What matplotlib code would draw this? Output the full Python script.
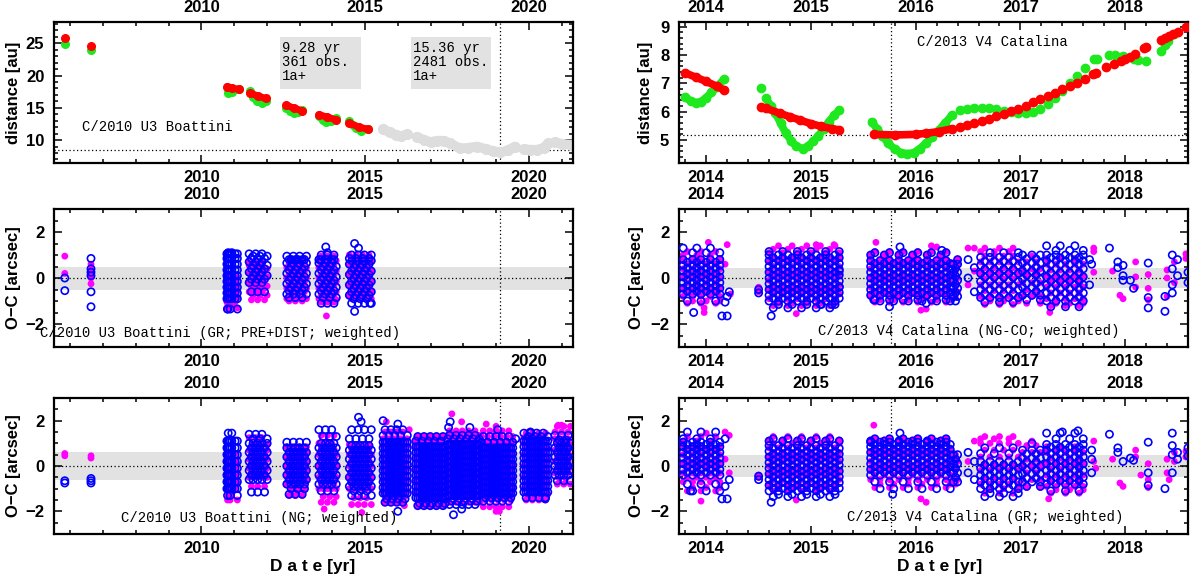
import numpy as np
import matplotlib
matplotlib.use("Agg")
import matplotlib.pyplot as plt
from matplotlib.ticker import MultipleLocator, ScalarFormatter
from matplotlib.patches import Rectangle

plt.rcParams['font.family'] = ['Liberation Sans', 'DejaVu Sans']
plt.rcParams['font.weight'] = 'bold'
plt.rcParams['axes.unicode_minus'] = True

# ---------------- C/2010 U3 Boattini : distances ----------------
boat_red_t = [[2005.84], [2006.63], [2010.79, 2010.95, 2011.14], [2011.49, 2011.72, 2011.96],
              [2012.60, 2012.83, 2013.07], [2013.59, 2013.85, 2014.11], [2014.52, 2014.80, 2015.10]]
boat_red_d = [[25.75], [24.55], [18.3, 18.05, 17.85], [17.3, 16.85, 16.45],
              [15.4, 14.95, 14.55], [13.95, 13.55, 13.15], [12.6, 12.05, 11.65]]
boat_green_t = [[2005.84], [2006.63], [2010.80, 2010.95, 2011.14],
                [2011.49, 2011.58, 2011.70, 2011.84, 2011.96],
                [2012.60, 2012.70, 2012.83, 2012.95, 2013.07],
                [2013.59, 2013.70, 2013.82, 2013.95, 2014.11],
                [2014.52, 2014.62, 2014.72, 2014.87, 2015.10]]
boat_green_d = [[24.85], [24.0], [17.3, 17.4, 17.95], [17.6, 16.7, 16.1, 15.75, 16.0],
                [15.0, 14.5, 14.2, 14.3, 14.7], [13.7, 13.1, 12.8, 12.9, 13.35],
                [13.0, 12.3, 11.8, 11.4, 11.75]]
boat_gray_t = [[2015.55, 2015.75, 2015.95, 2016.10, 2016.28],
               [2016.58, 2016.80, 2017.00, 2017.20, 2017.40, 2017.60, 2017.90, 2018.15,
                2018.42, 2018.70, 2018.92, 2019.13, 2019.35, 2019.58],
               [2019.84, 2020.05, 2020.25, 2020.45, 2020.60],
               [2020.80, 2021.00, 2021.30]]
boat_gray_d = [[11.7, 11.2, 10.8, 10.6, 10.9],
               [10.5, 10.0, 9.7, 9.9, 9.9, 9.5, 8.7, 8.8, 9.0, 8.6, 8.3, 8.1, 8.4, 9.0],
               [8.6, 8.5, 8.5, 8.8, 9.5],
               [9.7, 9.4, 9.3]]

# ---------------- C/2013 V4 Catalina : distances ----------------
cat_red_arc_t = [[2013.80, 2013.90, 2014.00, 2014.10, 2014.17], [2014.52],
                 [2014.57, 2014.70, 2014.80, 2014.90, 2015.00, 2015.10, 2015.20, 2015.27],
                 [2015.60, 2015.80, 2016.00, 2016.10, 2016.22, 2016.35]]
cat_red_arc_d = [[7.37, 7.22, 7.07, 6.90, 6.77], [6.18],
                 [6.12, 5.95, 5.82, 5.70, 5.58, 5.48, 5.40, 5.36],
                 [5.20, 5.18, 5.20, 5.24, 5.30, 5.40]]
cat_red_dot_t = [2016.42, 2016.49, 2016.56, 2016.63, 2016.70, 2016.77, 2016.84, 2016.91, 2016.98,
                 2017.05, 2017.12, 2017.19, 2017.26, 2017.33, 2017.40, 2017.47, 2017.54, 2017.62,
                 2017.69, 2017.72, 2017.82, 2017.89, 2017.96, 2018.00, 2018.05, 2018.09, 2018.18,
                 2018.20, 2018.34, 2018.38, 2018.42, 2018.46, 2018.50, 2018.58]
cat_red_dot_d = [5.47, 5.54, 5.60, 5.67, 5.75, 5.84, 5.93, 6.02, 6.11, 6.22, 6.33, 6.44, 6.55,
                 6.67, 6.79, 6.91, 7.03, 7.17, 7.33, 7.38, 7.58, 7.68, 7.80, 7.87, 7.95, 8.05,
                 8.26, 8.30, 8.55, 8.62, 8.68, 8.74, 8.80, 9.00]
cat_green_arc_t = [[2013.80, 2013.85, 2013.90, 2013.95, 2014.00, 2014.05, 2014.10, 2014.17], [2014.52],
                   [2014.57, 2014.62, 2014.66, 2014.71, 2014.76, 2014.81, 2014.86, 2014.92,
                    2014.97, 2015.02, 2015.07, 2015.12, 2015.17, 2015.22, 2015.27],
                   [2015.58, 2015.63, 2015.68, 2015.74, 2015.80, 2015.86, 2015.92, 2015.98,
                    2016.04, 2016.10, 2016.16, 2016.22, 2016.28, 2016.35]]
cat_green_arc_d = [[6.52, 6.38, 6.32, 6.36, 6.50, 6.68, 6.88, 7.15], [6.85],
                   [6.47, 6.20, 5.95, 5.60, 5.24, 4.98, 4.78, 4.70, 4.78, 4.95, 5.15, 5.40,
                    5.65, 5.87, 6.05],
                   [5.65, 5.40, 5.15, 4.88, 4.68, 4.55, 4.52, 4.55, 4.70, 4.90, 5.12, 5.35,
                    5.60, 5.89]]
cat_green_dot_t = [2016.42, 2016.49, 2016.56, 2016.63, 2016.70, 2016.77, 2016.84, 2016.91, 2016.98,
                   2017.05, 2017.12, 2017.19, 2017.26, 2017.33, 2017.40, 2017.47, 2017.54, 2017.62,
                   2017.70, 2017.73, 2017.85, 2017.90, 2017.98, 2018.08, 2018.12, 2018.20, 2018.34,
                   2018.38, 2018.41, 2018.47]
cat_green_dot_d = [6.06, 6.11, 6.14, 6.15, 6.12, 6.08, 6.04, 6.00, 5.97, 5.96, 5.98, 6.10, 6.28,
                   6.50, 6.75, 7.00, 7.25, 7.55, 7.85, 7.88, 8.02, 8.02, 7.97, 7.88, 7.84, 7.80,
                   8.15, 8.35, 8.50, 8.75]

# ---------------- O-C residuals: observation seasons ----------------
boat_seasons = [
    [2005.83],
    [2006.63],
    [2010.78, 2010.80, 2010.82, 2010.85, 2010.88, 2010.93, 2011.03, 2011.10],
    [2011.46, 2011.53, 2011.58, 2011.66, 2011.72, 2011.79, 2011.85, 2011.93, 2012.01],
    [2012.61, 2012.68, 2012.74, 2012.81, 2012.87, 2012.94, 2013.00, 2013.08, 2013.15, 2013.21],
    [2013.59, 2013.66, 2013.72, 2013.79, 2013.85, 2013.92, 2013.98, 2014.05, 2014.12],
    [2014.52, 2014.59, 2014.66, 2014.72, 2014.79, 2014.85, 2014.92, 2014.98, 2015.05, 2015.12,
     2015.19],
    [2015.55, 2015.61, 2015.66, 2015.73, 2015.79, 2015.84, 2015.91, 2015.97, 2016.02, 2016.09,
     2016.15, 2016.22, 2016.29],
    [2016.55, 2016.61, 2016.67, 2016.74, 2016.80, 2016.86, 2016.93, 2016.99, 2017.05, 2017.12,
     2017.18, 2017.25, 2017.31, 2017.38, 2017.44],
    [2017.52, 2017.58, 2017.65, 2017.71, 2017.78, 2017.84, 2017.90, 2017.97, 2018.03, 2018.10,
     2018.16, 2018.23, 2018.29, 2018.36, 2018.42, 2018.48],
    [2018.55, 2018.61, 2018.68, 2018.74, 2018.81, 2018.87, 2018.94, 2019.00, 2019.06, 2019.13,
     2019.19, 2019.26, 2019.32, 2019.39, 2019.45, 2019.51],
    [2019.85, 2019.92, 2019.98, 2020.05, 2020.11, 2020.18, 2020.24, 2020.31, 2020.37, 2020.44,
     2020.51, 2020.58],
    [2020.80, 2020.87, 2020.93, 2021.00, 2021.07, 2021.13, 2021.20, 2021.27],
]

# GR; PRE+DIST fit (data up to 2015 only): core and halo values per season
bgr_mag_core = [
    [0.95, 0.2], [0.6, 0.35, 0.15, 0.0, -0.25],
    [-1.05, -0.85, -0.7, -0.55, -0.4, -0.3, -0.15, 0.0],
    [-0.6, -0.45, -0.35, -0.2, -0.05, 0.05, 0.2, 0.3, 0.4, 0.55],
    [-0.9, -0.75, -0.6, -0.45, -0.3, -0.15, 0.0, 0.15, 0.3, 0.45, 0.6, 0.75],
    [-0.9, -0.75, -0.6, -0.45, -0.3, -0.15, 0.0, 0.15, 0.3, 0.45, 0.6, 0.75],
    [-0.75, -0.6, -0.45, -0.3, -0.15, 0.0, 0.15, 0.3, 0.45, 0.6, 0.75, 0.9],
    [], [], [], [], [], [],
]
bgr_mag_halo = [[], [], [-1.3, -1.2], [-0.95, -0.75, 0.7], [-1.0, 0.85], [-1.05, -0.95, 0.8, 0.95],
                [-0.9, 0.9, 1.0], [], [], [], [], [], []]
bgr_mag_extra = [(2013.82, -1.65)]
bgr_mag_stride = [1, 1, 2, 3, 3, 3, 3, 1, 1, 1, 1, 1, 1]
bgr_blu_core = [
    [0.0, -0.55], [0.85, 0.4, 0.25, 0.1, -0.6, -1.25],
    [-0.9, -0.65, -0.4, -0.15, 0.1, 0.35, 0.6, 0.85, 1.05],
    [-0.2, -0.05, 0.1, 0.25, 0.4, 0.55, 0.7, 0.85],
    [-0.7, -0.55, -0.4, -0.25, -0.1, 0.05, 0.2, 0.35, 0.5, 0.65, 0.8],
    [-0.7, -0.55, -0.4, -0.25, -0.1, 0.05, 0.2, 0.35, 0.5, 0.65, 0.8],
    [-0.75, -0.6, -0.45, -0.3, -0.15, 0.0, 0.15, 0.3, 0.45, 0.6, 0.75],
    [], [], [], [], [], [],
]
bgr_blu_halo = [[], [], [-1.35, 1.1], [-0.6, 0.95, 1.05], [-0.85, 0.8, 0.95], [-1.1, -0.85, 0.8, 1.0],
                [-1.1, -0.9, 0.85, 1.0], [], [], [], [], [], []]
bgr_blu_extra = [(2013.80, 1.35), (2013.85, 1.1), (2014.68, 1.5), (2014.80, 1.3), (2014.68, -1.45),
                 (2010.80, -1.35), (2015.15, -1.1)]
bgr_blu_stride = [1, 1, 1, 3, 3, 3, 3, 1, 1, 1, 1, 1, 1]

# NG fit (all data)
bng_mag_core = [
    [0.55, 0.45], [0.45, 0.35],
    [-1.0, -0.75, -0.5, -0.3, -0.1, 0.1, 0.3],
    [-0.5, -0.3, -0.1, 0.1, 0.3, 0.5, 0.7],
    [-0.8, -0.6, -0.4, -0.2, 0.0, 0.2, 0.4, 0.6],
    [-1.0, -0.75, -0.5, -0.25, 0.0, 0.25, 0.5, 0.75],
    [-1.0, -0.75, -0.5, -0.25, 0.0, 0.25, 0.5, 0.75],
    [-1.1, -0.85, -0.6, -0.35, -0.1, 0.15, 0.4, 0.65, 0.9],
    [-1.2, -0.95, -0.7, -0.45, -0.2, 0.05, 0.3, 0.55, 0.8],
    [-1.1, -0.85, -0.6, -0.35, -0.1, 0.15, 0.4, 0.65, 0.9, 1.1],
    [-1.2, -0.95, -0.7, -0.45, -0.2, 0.05, 0.3, 0.55, 0.8, 1.05],
    [-1.0, -0.75, -0.5, -0.25, 0.0, 0.25, 0.5, 0.75, 1.0],
    [-0.3, -0.05, 0.2, 0.45, 0.7, 0.95, 1.2],
]
bng_mag_halo = [[], [], [-1.5, -1.3, 0.55], [-0.9, 0.95, 1.25], [-1.3, -1.05, 0.85],
                [-1.6, -1.35, 1.0, 1.35], [-1.7, -1.4, 0.95], [-1.6, -1.35, 1.2, 1.5],
                [-1.75, -1.45, 1.1, 1.3], [-1.6, -1.35, 1.35, 1.55], [-1.8, -1.5, 1.3, 1.55],
                [-1.5, -1.25, 1.25, 1.45], [-0.8, -0.55, 1.5, 1.75]]
bng_mag_extra = [(2013.75, -1.9), (2014.90, -2.05), (2015.65, 1.95), (2016.20, -1.75), (2017.65, 2.3),
                 (2017.95, 1.95), (2018.70, 1.85), (2019.00, 1.75), (2019.00, -2.0), (2019.10, -2.0),
                 (2018.50, -1.6), (2020.90, 1.8), (2021.00, 1.8), (2016.35, 1.6), (2016.60, -1.75),
                 (2017.45, -1.7)]
bng_mag_stride = [1, 1, 2, 2, 2, 2, 2, 2, 2, 2, 2, 2, 2]
bng_blu_core = [
    [-0.65, -0.75], [-0.55, -0.65, -0.75],
    [-1.0, -0.7, -0.4, -0.1, 0.2, 0.5, 0.8, 1.1],
    [-0.6, -0.4, -0.2, 0.0, 0.2, 0.4, 0.6, 0.8, 1.0],
    [-0.8, -0.6, -0.4, -0.2, 0.0, 0.2, 0.4, 0.6, 0.8],
    [-0.8, -0.6, -0.4, -0.2, 0.0, 0.2, 0.4, 0.6, 0.8, 1.0],
    [-0.9, -0.7, -0.5, -0.3, -0.1, 0.1, 0.3, 0.5, 0.7, 0.9],
    [-1.2, -0.95, -0.7, -0.45, -0.2, 0.05, 0.3, 0.55, 0.8, 1.05],
    [-1.4, -1.15, -0.9, -0.65, -0.4, -0.15, 0.1, 0.35, 0.6, 0.85],
    [-1.3, -1.05, -0.8, -0.55, -0.3, -0.05, 0.2, 0.45, 0.7, 0.95],
    [-1.2, -0.95, -0.7, -0.45, -0.2, 0.05, 0.3, 0.55, 0.8],
    [-1.15, -0.9, -0.65, -0.4, -0.15, 0.1, 0.35, 0.6, 0.85, 1.1],
    [-0.4, -0.2, 0.0, 0.2, 0.4, 0.6, 0.8, 1.0],
]
bng_blu_halo = [[], [], [-1.3, 1.45], [-1.15, 1.2, 1.4], [-1.25, -1.0, 1.05], [-1.1, 1.3, 1.6],
                [-1.3, -1.1, 1.2, 1.6], [-1.6, -1.45, 1.35, 1.6], [-1.75, -1.65, 1.1, 1.3],
                [-1.7, -1.55, 1.2, 1.35], [-1.55, -1.4, 1.05, 1.3], [-1.4, 1.3, 1.45],
                [-0.65, 1.15, 1.35]]
bng_blu_extra = [(2014.80, 2.15), (2014.88, 1.95), (2015.55, 2.0), (2016.00, 1.85), (2016.00, -2.0),
                 (2017.55, 1.7), (2017.60, 1.95), (2017.70, -2.15), (2017.95, -1.9), (2018.20, 1.7),
                 (2019.05, 1.6), (2019.60, 1.2), (2020.05, 1.5), (2020.50, -1.45)]
bng_blu_stride = [1, 1, 1, 2, 2, 2, 2, 1, 1, 1, 1, 1, 2]

cat_seasons = [
    [2013.78, 2013.82, 2013.87, 2013.91, 2013.95, 2014.00, 2014.04, 2014.09, 2014.13],
    [2014.50],
    [2014.60, 2014.64, 2014.69, 2014.73, 2014.78, 2014.82, 2014.87, 2014.91, 2014.96, 2015.00,
     2015.05, 2015.09, 2015.14, 2015.18, 2015.23, 2015.27],
    [2015.57, 2015.61, 2015.66, 2015.70, 2015.75, 2015.79, 2015.84, 2015.88, 2015.93, 2015.97,
     2016.02, 2016.06, 2016.11, 2016.15, 2016.20, 2016.24, 2016.29, 2016.33],
    [2016.36, 2016.38, 2016.40],
    [2016.50, 2016.56],
    [2016.62, 2016.66, 2016.71, 2016.75, 2016.80, 2016.84, 2016.89, 2016.93, 2016.98],
    [2017.02, 2017.06, 2017.11, 2017.15, 2017.19],
    [2017.25, 2017.29, 2017.34, 2017.38, 2017.43, 2017.47, 2017.52, 2017.56, 2017.60],
]
cat_stride = [2, 1, 2, 2, 2, 2, 2, 2, 2]

# NG-CO fit
cngco_mag_core = [
    [-0.8, -0.6, -0.4, -0.2, 0.0, 0.2, 0.4, 0.6, 0.8],
    [-0.4, -0.6],
    [-0.9, -0.7, -0.5, -0.3, -0.1, 0.1, 0.3, 0.5, 0.7, 0.9],
    [-0.8, -0.6, -0.4, -0.2, 0.0, 0.2, 0.4, 0.6, 0.8],
    [-0.6, -0.3, 0.0, 0.3, 0.6],
    [-0.3, 0.3],
    [-0.8, -0.55, -0.3, -0.05, 0.2, 0.45, 0.7, 0.95],
    [-0.8, -0.5, -0.2, 0.1, 0.4, 0.7],
    [-0.9, -0.65, -0.4, -0.15, 0.1, 0.35, 0.6],
]
cngco_mag_halo = [[-1.1, -1.0, 1.0, 1.15], [], [-1.2, -1.1, 1.1, 1.25, 1.4], [-1.05, -0.95, 1.0, 1.15],
                  [-0.85, 0.8], [1.3], [-1.15, -1.0, 1.15, 1.3], [-1.1, 0.95], [-1.2, -1.1, 0.85]]
cngco_mag_extra = [(2014.02, 1.55), (2014.20, 1.45), (2013.98, -1.5), (2013.98, -1.3), (2014.18, 0.6),
                   (2014.23, -0.7), (2014.86, -1.55), (2015.05, 1.45), (2015.22, 1.45), (2015.62, 1.55),
                   (2016.05, -1.4), (2016.10, -1.35), (2016.15, 1.4), (2016.20, 1.35),
                   (2017.28, -1.5), (2017.70, 1.3), (2017.70, 1.15), (2017.70, 0.25), (2017.88, 0.3),
                   (2017.95, -0.75), (2017.98, -0.9), (2018.10, 0.7), (2018.10, 0.05), (2018.10, -0.4),
                   (2018.22, 0.15), (2018.22, -0.45), (2018.22, -0.95), (2018.40, 0.35), (2018.40, 0.0),
                   (2018.40, -0.8), (2018.47, 0.7), (2018.47, -0.2), (2018.58, 1.05), (2018.58, 0.85)]
cngco_blu_core = [
    [-0.7, -0.58, -0.45, -0.33, -0.2, -0.08, 0.05, 0.18, 0.3, 0.43, 0.55, 0.68, 0.8],
    [-0.5, -0.65],
    [-1.0, -0.88, -0.75, -0.63, -0.5, -0.38, -0.25, -0.13, 0.0, 0.13, 0.25, 0.38, 0.5, 0.63,
     0.75, 0.88, 1.0],
    [-0.75, -0.63, -0.5, -0.38, -0.25, -0.13, 0.0, 0.13, 0.25, 0.38, 0.5, 0.63, 0.75],
    [-0.8, -0.63, -0.45, -0.28, -0.1, 0.08, 0.25, 0.43, 0.6],
    [0.8, 0.45, 0.0, -0.6],
    [-0.85, -0.68, -0.5, -0.33, -0.15, 0.03, 0.2, 0.38, 0.55, 0.73, 0.9],
    [-0.75, -0.58, -0.4, -0.23, -0.05, 0.13, 0.3, 0.48, 0.65, 0.83, 1.0],
    [-1.0, -0.83, -0.65, -0.48, -0.3, -0.13, 0.05, 0.23, 0.4, 0.58, 0.75, 0.88, 1.0],
]
cngco_blu_halo = [[-1.0, 1.1, 1.3], [], [-1.3, -1.15, 1.15], [-0.95, -1.0, 1.0, 1.1], [-1.0, 0.8], [],
                  [-1.05, 1.1], [-0.95], [-1.25, 1.2, 1.4]]
cngco_blu_extra = [(2013.88, -1.5), (2014.15, -1.65), (2014.20, -1.65), (2014.18, -1.05),
                   (2014.20, -0.8), (2014.22, -0.6), (2014.62, -1.65), (2015.10, -1.15), (2015.20, -1.15),
                   (2015.27, -0.4), (2015.27, 0.3), (2015.60, -0.95), (2015.75, -1.25), (2015.85, 1.35),
                   (2016.25, 1.2), (2016.10, -1.1), (2017.66, 0.8), (2017.68, 0.6), (2017.66, -0.3),
                   (2017.85, 1.3), (2017.93, 0.7), (2017.93, 0.45), (2017.98, 0.55), (2017.98, 0.1),
                   (2017.98, -0.1), (2018.05, -0.1), (2018.08, -0.45), (2018.22, 0.65), (2018.22, -0.85),
                   (2018.22, -1.3), (2018.38, -1.45), (2018.38, -0.8), (2018.45, 1.0), (2018.45, 0.4),
                   (2018.45, -0.3), (2018.45, -0.65), (2018.50, 0.8), (2018.50, 0.1), (2018.60, 0.25),
                   (2018.60, -0.2)]

# GR fit
cgr_mag_core = [
    [-0.7, -0.5, -0.3, -0.1, 0.1, 0.3, 0.5, 0.7, 0.9],
    [-0.4, -0.5],
    [-0.8, -0.6, -0.4, -0.2, 0.0, 0.2, 0.4, 0.6, 0.8, 1.0],
    [-0.6, -0.4, -0.2, 0.0, 0.2, 0.4, 0.6, 0.8, 1.0],
    [-0.6, -0.2, 0.2, 0.5],
    [0.2, 1.1],
    [-0.8, -0.5, -0.2, 0.1, 0.4, 0.7, 1.0],
    [-0.6, -0.3, 0.0, 0.3, 0.6, 0.9],
    [-0.9, -0.65, -0.4, -0.15, 0.1, 0.35, 0.6],
]
cgr_mag_halo = [[-1.1, -0.95, 1.1, 1.3], [], [-1.1, -1.0, 1.15, 1.3], [-0.95, -0.8, 1.15, 1.2], [-0.8], [],
                [-1.2, -1.0, 1.2, 1.3], [-0.95, 1.1], [-1.2, -1.05, 0.85]]
cgr_mag_extra = [(2013.95, -1.55), (2014.00, 1.45), (2014.18, 1.5), (2014.22, 1.35), (2014.18, 0.3),
                 (2014.22, -0.3), (2014.86, -1.5), (2015.60, 1.8), (2016.05, -1.45), (2016.10, -1.6),
                 (2017.27, -1.45), (2017.70, 1.1), (2017.70, 0.2), (2017.72, -0.1), (2017.88, 0.3),
                 (2017.95, -0.75), (2017.98, -0.9), (2018.10, 0.7), (2018.10, 0.4), (2018.15, -0.4),
                 (2018.22, 0.1), (2018.22, -0.6), (2018.22, -0.95), (2018.40, 0.3), (2018.40, -0.3),
                 (2018.42, -0.6), (2018.47, 0.6), (2018.47, 0.2), (2018.58, 0.65), (2018.58, 0.4)]
cgr_blu_core = [
    [-0.4, -0.28, -0.15, -0.03, 0.1, 0.23, 0.35, 0.48, 0.6, 0.73, 0.85, 0.95, 1.05],
    [-0.45, -0.6],
    [-1.1, -0.98, -0.85, -0.73, -0.6, -0.48, -0.35, -0.23, -0.1, 0.03, 0.15, 0.28, 0.4, 0.53,
     0.65, 0.78, 0.9],
    [-0.4, -0.28, -0.15, -0.03, 0.1, 0.23, 0.35, 0.48, 0.6, 0.73, 0.85, 0.95, 1.05],
    [-0.7, -0.5, -0.3, -0.1, 0.1, 0.3, 0.5],
    [0.6, 0.2, -0.3, -0.6],
    [-1.0, -0.85, -0.7, -0.55, -0.4, -0.25, -0.1, 0.05, 0.2],
    [-0.7, -0.53, -0.35, -0.18, 0.0, 0.18, 0.35, 0.53, 0.7],
    [-0.8, -0.65, -0.5, -0.35, -0.2, -0.05, 0.1, 0.25, 0.4, 0.55, 0.7, 0.83, 0.95],
]
cgr_blu_halo = [[-0.8, -1.1, 1.2, 1.5], [], [-1.35, -1.25, 1.1, 1.2], [-0.7, -1.0, 1.1, 1.2], [], [],
                [-1.35, -1.2, 0.55, 0.8], [-0.9, 1.0], [-1.1, 1.2, 1.45]]
cgr_blu_extra = [(2013.85, -1.1), (2014.15, -1.45), (2014.20, -1.45), (2014.18, -0.9),
                 (2014.22, -0.6), (2014.18, 1.2), (2014.62, -1.6), (2015.78, -1.25), (2015.85, 1.45),
                 (2017.55, 1.55), (2017.40, 1.5), (2017.68, 0.7), (2017.68, 0.3), (2017.68, -0.3),
                 (2017.85, 1.4), (2017.93, 0.8), (2017.93, 0.6), (2017.98, 0.2), (2018.05, 0.35),
                 (2018.08, 0.25), (2018.22, 1.05), (2018.22, -0.85), (2018.22, -0.3), (2018.38, -1.0),
                 (2018.45, 1.45), (2018.45, 0.9), (2018.45, 0.5), (2018.45, -0.3), (2018.50, 0.6),
                 (2018.50, 0.3), (2018.60, 0.8), (2018.60, 0.45)]

RED, GREEN, MAG, BLUE = '#ff0000', '#1ee81e', '#ff00ff', '#0000ff'
BAND = '#e2e2e2'
MONO = ['Liberation Mono', 'DejaVu Sans Mono']


def season_points(seasons, core, halo, extra, strides):
    # core value k of a season sits on every stride-th date (shifted with k); halo on every third
    ts, vs = [], []
    for t, c, h, s in zip(seasons, core, halo, strides):
        t = np.asarray(t)
        for k, v in enumerate(c):
            sub = t[k % s::s] if len(t) >= s else t
            ts.append(sub)
            vs.append(np.full(len(sub), v))
        for k, v in enumerate(h):
            sub = t[(k + 1) % 3::3] if len(t) > 2 else t
            ts.append(sub)
            vs.append(np.full(len(sub), v))
    ts.append(np.array([p[0] for p in extra]))
    vs.append(np.array([p[1] for p in extra]))
    return np.concatenate(ts), np.concatenate(vs)


fig = plt.figure(figsize=(12, 5.79), dpi=100)
W, H = 1200.0, 579.0


def make_ax(x0, x1, y0, y1):
    return fig.add_axes([x0 / W, 1 - y1 / H, (x1 - x0) / W, (y1 - y0) / H])


def style(ax, xmaj, xmin, ymaj, ymin):
    ax.xaxis.set_major_locator(MultipleLocator(xmaj))
    ax.xaxis.set_minor_locator(MultipleLocator(xmin))
    ax.yaxis.set_major_locator(MultipleLocator(ymaj))
    ax.yaxis.set_minor_locator(MultipleLocator(ymin))
    ax.xaxis.set_major_formatter(ScalarFormatter(useOffset=False))
    ax.tick_params(which='both', direction='in', top=True, right=True, labeltop=True,
                   width=1.1, labelsize=12)
    ax.tick_params(which='major', length=5.5)
    ax.tick_params(which='minor', length=2.7)
    ax.tick_params(axis='x', pad=5)
    ax.tick_params(axis='y', pad=7)
    for s in ax.spines.values():
        s.set_linewidth(1.6)


LX = (54, 573)
RX = (679, 1188)
ROWS = [(22, 163), (209, 347), (398, 534)]
DOT = dict(color='k', ls=(0, (1, 2)), lw=0.9, zorder=1.5)

# ---------- top left: Boattini distances ----------
ax = make_ax(LX[0], LX[1], *ROWS[0])
for t, d in zip(boat_gray_t, boat_gray_d):
    ax.plot(t, d, 'o-', color='#dddddd', lw=7, ms=7, solid_capstyle='round', zorder=2)
for t, d in zip(boat_green_t, boat_green_d):
    ax.plot(t, d, 'o-', color=GREEN, lw=5, ms=5.5, solid_capstyle='round', zorder=3)
for t, d in zip(boat_red_t, boat_red_d):
    ax.plot(t, d, 'o-', color=RED, lw=5, ms=5.5, solid_capstyle='round', zorder=4)
ax.add_patch(Rectangle((2012.40, 17.9), 2.47, 8.0, facecolor=BAND, edgecolor='none', zorder=1))
ax.add_patch(Rectangle((2016.39, 17.9), 2.47, 8.0, facecolor=BAND, edgecolor='none', zorder=1))
ax.text(2012.46, 25.3, "9.28 yr\n361 obs.\n1a+", family=MONO, fontweight='normal',
        fontsize=10, va='top', ha='left', linespacing=1.0, zorder=5)
ax.text(2016.45, 25.3, "15.36 yr\n2481 obs.\n1a+", family=MONO, fontweight='normal',
        fontsize=10, va='top', ha='left', linespacing=1.0, zorder=5)
ax.text(2006.35, 11.96, "C/2010 U3 Boattini", family=MONO, fontweight='normal',
        fontsize=10, va='center', ha='left')
ax.axhline(8.5, **DOT)
ax.axvline(2019.13, **DOT)
ax.set_xlim(2005.5, 2021.35)
ax.set_ylim(6.45, 28.3)
style(ax, 5, 1, 5, 1)
ax.set_ylabel("distance [au]", fontsize=12, fontweight='bold')
ax.yaxis.set_label_coords((21 - LX[0]) / (LX[1] - LX[0]), 0.5)

# ---------- top right: Catalina distances ----------
ax = make_ax(RX[0], RX[1], *ROWS[0])
for t, d in zip(cat_green_arc_t, cat_green_arc_d):
    ax.plot(t, d, 'o-', color=GREEN, lw=5.5, ms=6, solid_capstyle='round', zorder=3)
ax.plot(cat_green_dot_t, cat_green_dot_d, 'o', color=GREEN, ms=6, zorder=3)
for t, d in zip(cat_red_arc_t, cat_red_arc_d):
    ax.plot(t, d, 'o-', color=RED, lw=5.5, ms=6, solid_capstyle='round', zorder=4)
ax.plot(cat_red_dot_t, cat_red_dot_d, 'o', color=RED, ms=6, zorder=4)
ax.axhline(5.17, **DOT)
ax.axvline(2015.76, **DOT)
ax.text(2016.73, 8.48, "C/2013 V4 Catalina", family=MONO, fontweight='normal',
        fontsize=10, va='center', ha='center')
ax.set_xlim(2013.74, 2018.6)
ax.set_ylim(4.19, 9.17)
style(ax, 1, 0.2, 1, 0.2)
ax.set_ylabel("distance [au]", fontsize=12, fontweight='bold')
ax.yaxis.set_label_coords((653 - RX[0]) / (RX[1] - RX[0]), 0.5)

# ---------- O-C panels ----------
panels = [
    (LX, ROWS[1], boat_seasons,
     (bgr_mag_core, bgr_mag_halo, bgr_mag_extra, bgr_mag_stride),
     (bgr_blu_core, bgr_blu_halo, bgr_blu_extra, bgr_blu_stride), 0.5,
     (2005.07, -2.4, "C/2010 U3 Boattini (GR; PRE+DIST; weighted)", 'left'), 'L'),
    (LX, ROWS[2], boat_seasons,
     (bng_mag_core, bng_mag_halo, bng_mag_extra, bng_mag_stride),
     (bng_blu_core, bng_blu_halo, bng_blu_extra, bng_blu_stride), 0.6,
     (2011.78, -2.3, "C/2010 U3 Boattini (NG; weighted)", 'center'), 'L'),
    (RX, ROWS[1], cat_seasons,
     (cngco_mag_core, cngco_mag_halo, cngco_mag_extra, cat_stride),
     (cngco_blu_core, cngco_blu_halo, cngco_blu_extra, cat_stride), 0.45,
     (2016.51, -2.3, "C/2013 V4 Catalina (NG-CO; weighted)", 'center'), 'R'),
    (RX, ROWS[2], cat_seasons,
     (cgr_mag_core, cgr_mag_halo, cgr_mag_extra, cat_stride),
     (cgr_blu_core, cgr_blu_halo, cgr_blu_extra, cat_stride), 0.47,
     (2016.66, -2.26, "C/2013 V4 Catalina (GR; weighted)", 'center'), 'R'),
]
for cols, rows, seasons, mag, blu, band, label, side in panels:
    ax = make_ax(cols[0], cols[1], rows[0], rows[1])
    ax.axhspan(-band, band, color=BAND, lw=0, zorder=0)
    ax.axhline(0, **DOT)
    tm, vm = season_points(seasons, *mag)
    tb, vb = season_points(seasons, *blu)
    ax.scatter(tm, vm, s=24, color=MAG, edgecolors='none', zorder=2)
    ax.scatter(tb, vb, s=27, facecolors='none', edgecolors=BLUE, linewidths=1.2, zorder=3)
    ax.text(label[0], label[1], label[2], family=MONO, fontweight='normal', fontsize=10,
            va='center', ha=label[3], clip_on=False, zorder=6)
    if side == 'L':
        ax.axvline(2019.13, **DOT)
        ax.set_xlim(2005.5, 2021.35)
        style(ax, 5, 1, 2, 0.5)
        lx = (21 - cols[0]) / (cols[1] - cols[0])
    else:
        ax.axvline(2015.76, **DOT)
        ax.set_xlim(2013.74, 2018.6)
        style(ax, 1, 0.2, 2, 0.5)
        lx = (644 - cols[0]) / (cols[1] - cols[0])
    ax.set_ylim(-3.0, 3.0)
    ax.set_ylabel("O\u2212C [arcsec]", fontsize=12, fontweight='bold')
    ax.yaxis.set_label_coords(lx, 0.5)

fig.text(313 / W, 1 - 567 / H, "D a t e [yr]", fontsize=12.5, ha='center', va='center')
fig.text(940 / W, 1 - 567 / H, "D a t e [yr]", fontsize=12.5, ha='center', va='center')

fig.savefig("out.png", dpi=100)
